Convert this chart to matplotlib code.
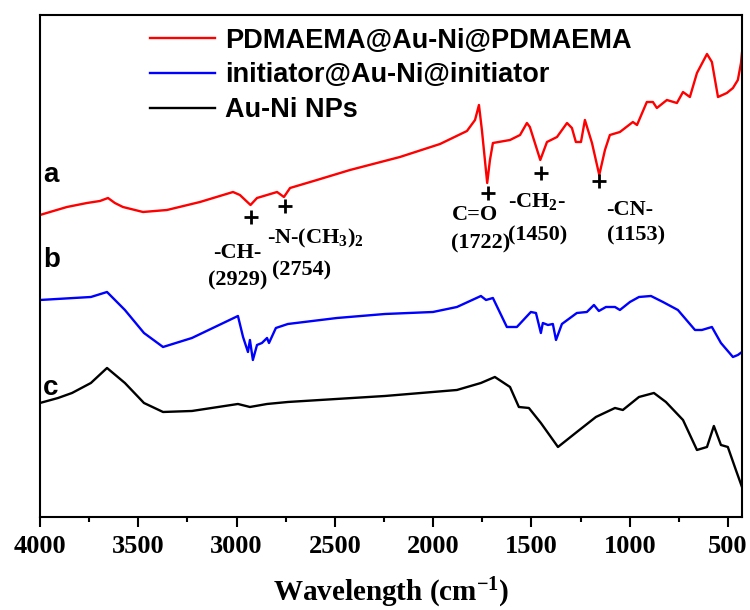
import matplotlib
matplotlib.use("Agg")
import matplotlib.pyplot as plt
from matplotlib.ticker import MultipleLocator

plt.rcParams['mathtext.fontset'] = 'custom'
plt.rcParams['mathtext.rm'] = 'Liberation Serif:bold'
plt.rcParams['mathtext.it'] = 'Liberation Serif:bold'
plt.rcParams['mathtext.default'] = 'rm'

# --- spectra (wavenumber, offset intensity) ---
wn_a = [4000, 3949, 3863, 3761, 3695, 3654, 3619, 3578, 3476, 3354, 3186, 3018, 2983,
        2929, 2896, 2845, 2794, 2759, 2728, 2591, 2423, 2169, 1965, 1828, 1787, 1767,
        1752, 1725, 1711, 1696, 1609, 1558, 1523, 1508, 1455, 1421, 1370, 1319, 1294,
        1274, 1248, 1228, 1192, 1155, 1126, 1101, 1050, 984, 963, 913, 882, 862, 811,
        760, 729, 694, 658, 607, 582, 551, 506, 475, 450, 434, 429]
int_a = [302, 305, 310, 314, 316, 319, 314, 310, 305, 307, 315, 325, 322,
         312, 319, 322, 325, 320, 329, 337, 347, 360, 373, 386, 397, 412,
         387, 334, 357, 374, 377, 382, 394, 390, 357, 375, 380, 394, 389,
         375, 375, 397, 374, 342, 367, 382, 385, 395, 392, 415, 415, 409, 417,
         414, 425, 420, 444, 463, 455, 420, 424, 429, 437, 454, 464]

wn_b = [4000, 3741, 3659, 3568, 3471, 3374, 3227, 2993, 2967, 2942, 2932, 2917, 2896,
        2871, 2845, 2835, 2800, 2739, 2489, 2245, 2001, 1879, 1757, 1731, 1696, 1625,
        1574, 1503, 1477, 1452, 1442, 1416, 1391, 1375, 1345, 1269, 1218, 1182, 1157,
        1121, 1075, 1050, 999, 953, 892, 831, 755, 668, 633, 582, 536, 475, 450, 429]
int_b = [217, 220, 225, 207, 184, 170, 179, 201, 180, 165, 177, 157, 172,
         174, 179, 174, 189, 193, 199, 203, 205, 210, 221, 217, 219, 190,
         190, 205, 204, 184, 194, 192, 193, 177, 193, 204, 205, 212, 206,
         210, 210, 207, 215, 220, 221, 215, 207, 187, 187, 190, 174, 160, 162, 165]

wn_c = [4000, 3908, 3837, 3741, 3659, 3568, 3471, 3374, 3227, 2993, 2932, 2845, 2739,
        2245, 1879, 1757, 1686, 1609, 1564, 1513, 1452, 1365, 1269, 1172, 1075, 1035,
        953, 877, 816, 729, 658, 607, 572, 536, 501, 460, 429]
int_c = [114, 119, 124, 134, 149, 134, 114, 105, 106, 113, 110, 113, 115,
         121, 127, 134, 140, 130, 110, 109, 94, 70, 85, 100, 109, 107,
         120, 124, 115, 97, 67, 70, 91, 72, 70, 47, 30]

series_names = ['PDMAEMA@Au-Ni@PDMAEMA', 'initiator@Au-Ni@initiator', 'Au-Ni NPs']
series_colors = ['#ff0000', '#0000ff', '#000000']
curve_tags = ['a', 'b', 'c']
tag_y = [342, 257, 129]

# peak annotations: position of "+" and group label
peak_wn = [2929, 2754, 1722, 1453, 1155]
peak_int = [300, 311, 324, 344, 336]
group_text = ['-CH-', '-N-(CH$_3$)$_2$', 'C=O', '-CH$_2$-', '-CN-']
group_pos = [(2998, 264), (2601, 279), (1787, 302), (1472, 315), (999, 307)]
num_text = ['(2929)', '(2754)', '(1722)', '(1450)', '(1153)']
num_pos = [(2993, 237), (2667, 247), (1757, 274), (1467, 282), (968, 282)]

fig = plt.figure(figsize=(7.5, 6.1), dpi=100)
ax = fig.add_axes([0.0533, 0.1525, 0.936, 0.8229])

for wn, y, name, col in zip([wn_a, wn_b, wn_c], [int_a, int_b, int_c], series_names, series_colors):
    ax.plot(wn, y, color=col, lw=1.7, label=name)

ax.plot(peak_wn, peak_int, linestyle='none', marker='+', color='black', ms=10, mew=2)

serif = {'family': 'Liberation Serif', 'weight': 'bold', 'size': 16}
for t, (x, y) in zip(group_text, group_pos):
    ax.text(x, y, t, ha='center', va='center', fontdict=serif)
for t, (x, y) in zip(num_text, num_pos):
    ax.text(x, y, t, ha='center', va='center', fontdict=serif)

for t, y in zip(curve_tags, tag_y):
    ax.text(3985, y, t, ha='left', va='center', family='Liberation Sans',
            weight='bold', fontsize=20)

ax.set_xlim(4000, 429)
ax.set_ylim(0, 502)
ax.set_yticks([])
ax.xaxis.set_major_locator(MultipleLocator(500))
ax.xaxis.set_minor_locator(MultipleLocator(250))
ax.tick_params(axis='x', which='major', direction='out', length=7, width=1.5, pad=6)
ax.tick_params(axis='x', which='minor', direction='out', length=3.5, width=1.5)
for sp in ax.spines.values():
    sp.set_linewidth(1.5)
for lab in ax.get_xticklabels():
    lab.set_fontfamily('Liberation Serif')
    lab.set_fontweight('bold')
    lab.set_fontsize(19)

ax.set_xlabel('Wavelength (cm$^{-1}$)', family='Liberation Serif', weight='bold',
              fontsize=21, labelpad=13)

ax.legend(loc='upper left', bbox_to_anchor=(0.157, 0.975), frameon=False,
          borderpad=0, borderaxespad=0, handlelength=2.4, handletextpad=0.35,
          labelspacing=0.33, prop={'family': 'Liberation Sans', 'weight': 'bold', 'size': 19.5})

fig.savefig('out.png', dpi=100)
